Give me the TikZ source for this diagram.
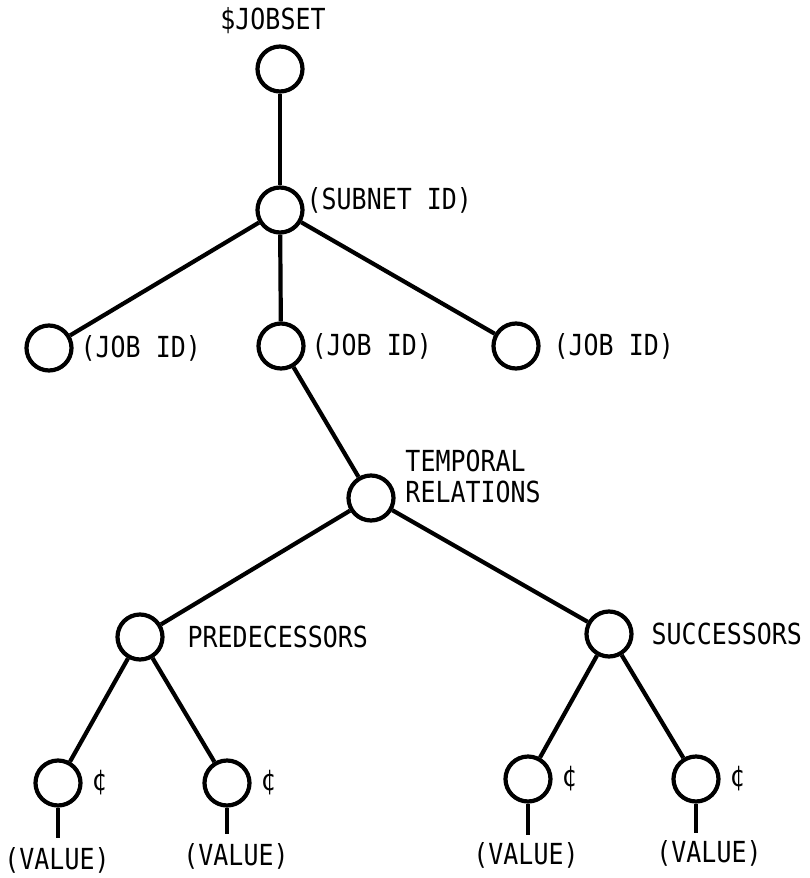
\documentclass[tikz,border=0pt]{standalone}
\usepackage{fontspec}
\newfontfamily\typer[FakeStretch=0.86]{DejaVu Sans Mono}
\usetikzlibrary{positioning}

\begin{document}
\begin{tikzpicture}[x=1pt, y=-1pt, line width=4.2pt, node distance=10pt,
  vertex/.style={circle, draw, minimum size=45pt, inner sep=0pt},
  tag/.style={font=\typer\fontsize{29}{31}\selectfont, inner sep=0pt}]
  \useasboundingbox (0,0) rectangle (809,878);

  \node[vertex] (jobset) at (280,69) {};
  \node[vertex] (subnet) at (280,210) {};
  \node[vertex] (jobA) at (49,348) {};
  \node[vertex] (jobB) at (281,346) {};
  \node[vertex] (jobC) at (516,346) {};
  \node[vertex] (temporal) at (371,498) {};
  \node[vertex] (pred) at (140,637) {};
  \node[vertex] (succ) at (609,634) {};
  \node[vertex] (valA) at (58,783) {};
  \node[vertex] (valB) at (227,783) {};
  \node[vertex] (valC) at (528,779) {};
  \node[vertex] (valD) at (696,779) {};

  % labels
  \node[tag, above=9pt of jobset, xshift=-7pt] (jobsettxt) {\$JOBSET};
  \node[tag, right=0pt of subnet, yshift=10pt] (subnettxt) {(SUBNET ID)};
  \node[tag, right=5pt of jobA] (jobAtxt) {(JOB ID)};
  \node[tag, right=4pt of jobB] (jobBtxt) {(JOB ID)};
  \node[tag, right=11pt of jobC] (jobCtxt) {(JOB ID)};
  \node[tag, align=left, right=15pt of temporal.north east, yshift=4pt] (temporaltxt) {TEMPORAL\\RELATIONS};
  \node[tag, right=21pt of pred] (predtxt) {PREDECESSORS};
  \node[tag, right=16pt of succ] (succtxt) {SUCCESSORS};
  \node[tag, right=7pt of valA] (centA) {¢};
  \node[tag, right=7pt of valB] (centB) {¢};
  \node[tag, right=7pt of valC] (centC) {¢};
  \node[tag, right=7pt of valD] (centD) {¢};

  % stems and values
  \coordinate[below=30pt of valA] (stemA);
  \coordinate[below=26pt of valB] (stemB);
  \coordinate[below=31pt of valC] (stemC);
  \coordinate[below=29pt of valD] (stemD);
  \node[tag, below=8pt of stemA, xshift=-1pt] (valuetxtA) {(VALUE)};
  \node[tag, below=8pt of stemB, xshift=9pt] (valuetxtB) {(VALUE)};
  \node[tag, below=6pt of stemC, xshift=-2pt] (valuetxtC) {(VALUE)};
  \node[tag, below=6pt of stemD, xshift=13pt] (valuetxtD) {(VALUE)};

  \path
    (jobset) edge (subnet)
    (subnet) edge (jobA)
    (subnet) edge (jobB)
    (subnet) edge (jobC)
    (jobB) edge (temporal)
    (temporal) edge (pred)
    (temporal) edge (succ)
    (pred) edge (valA)
    (pred) edge (valB)
    (succ) edge (valC)
    (succ) edge (valD)
    (valA) edge (stemA)
    (valB) edge (stemB)
    (valC) edge (stemC)
    (valD) edge (stemD);
\end{tikzpicture}
\end{document}
